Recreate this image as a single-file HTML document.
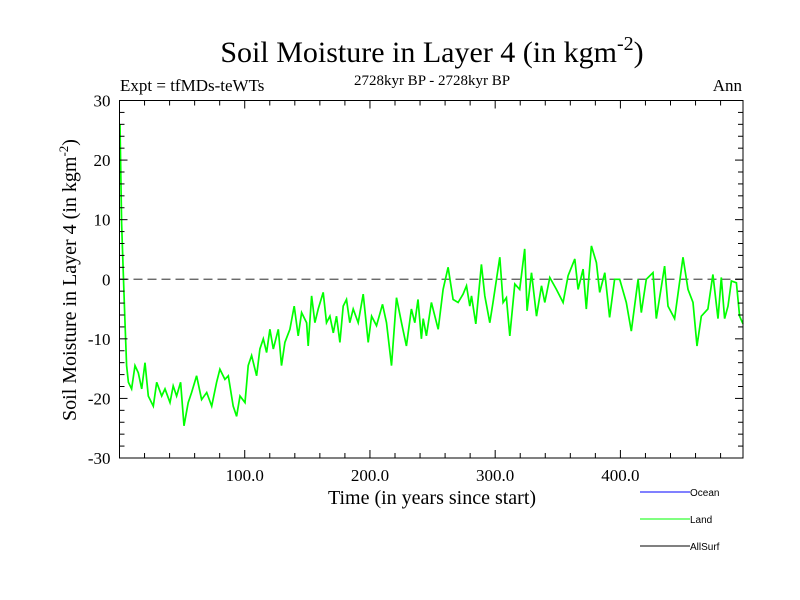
<!DOCTYPE html>
<html><head><meta charset="utf-8"><style>body{margin:0;background:#fff}svg{display:block}</style></head>
<body>
<svg id="chart" width="800" height="600" xmlns="http://www.w3.org/2000/svg">
<rect width="800" height="600" fill="#fff"/>
<text x="432" y="62" text-anchor="middle" font-family="Liberation Serif, serif" font-size="30">Soil Moisture in Layer 4 (in kgm<tspan dy="-12" font-size="20">-2</tspan><tspan dy="12">)</tspan></text>
<text x="120" y="91" font-family="Liberation Serif, serif" font-size="17">Expt = tfMDs-teWTs</text>
<text x="432" y="85" text-anchor="middle" font-family="Liberation Serif, serif" font-size="15">2728kyr BP - 2728kyr BP</text>
<text x="742" y="91" text-anchor="end" font-family="Liberation Serif, serif" font-size="17">Ann</text>
<g id="axes"></g>
<text x="432" y="504" text-anchor="middle" font-family="Liberation Serif, serif" font-size="20">Time (in years since start)</text>
<text transform="translate(76,280) rotate(-90)" text-anchor="middle" font-family="Liberation Serif, serif" font-size="20">Soil Moisture in Layer 4 (in kgm<tspan dy="-8" font-size="13">-2</tspan><tspan dy="8">)</tspan></text>
<g font-family="Liberation Sans, sans-serif" font-size="10">
<line x1="640" y1="492" x2="690" y2="492" stroke="#0000ff"/><text x="690" y="496">Ocean</text>
<line x1="640" y1="519" x2="690" y2="519" stroke="#00ff00"/><text x="690" y="523">Land</text>
<line x1="640" y1="546" x2="690" y2="546" stroke="#000"/><text x="690" y="550">AllSurf</text>
</g>
</svg>
<script>
const years=[0.4,1.7,3.1,4.4,5.7,7.1,9.7,12.4,15.0,17.7,20.4,23.0,27.0,29.7,33.7,36.3,40.3,42.9,45.6,48.8,51.5,54.9,57.6,61.6,65.6,69.6,73.6,77.5,80.2,84.2,86.9,90.8,93.5,96.2,100.2,102.8,105.5,109.5,112.1,114.8,117.5,120.1,122.8,126.8,129.4,132.1,136.1,139.5,142.7,145.4,149.4,150.7,153.4,156.0,158.7,162.7,165.3,168.0,170.7,173.3,176.0,178.6,181.3,183.9,186.6,190.6,194.6,198.6,201.3,205.2,210.0,213.2,217.2,221.2,225.2,229.1,233.1,235.8,238.4,241.1,242.5,245.1,249.1,254.5,258.4,262.4,266.4,270.4,274.4,277.1,279.7,281.1,284.5,289.0,291.7,295.7,298.3,303.7,306.3,309.0,311.7,315.7,319.6,323.6,325.5,329.0,333.0,337.0,339.6,343.6,348.9,354.2,358.2,363.6,366.2,370.2,372.8,376.8,380.8,383.5,387.5,391.4,395.4,399.4,404.7,408.7,414.1,416.7,420.7,426.0,428.7,435.3,438.0,443.3,450.0,454.0,458.0,461.2,464.6,469.9,473.9,477.9,480.6,483.2,485.9,488.6,492.6,495.2,497.9];
const land=[26,9.4,0.5,-7.3,-14.5,-17.3,-18.4,-14.5,-15.7,-18.4,-14,-19.6,-21.3,-17.3,-19.6,-18.4,-20.7,-17.9,-19.6,-17.3,-24.6,-20.7,-19,-16.2,-20.2,-19,-21.3,-17.3,-15.1,-16.8,-16.2,-21.3,-23,-19.6,-20.7,-14.5,-12.8,-16.2,-11.7,-10,-12.3,-8.4,-11.7,-8.4,-14.5,-10.6,-8.4,-4.5,-9.5,-5.6,-7.3,-11.2,-2.8,-7.3,-5,-2.2,-7.3,-6.2,-9,-6.2,-10.6,-4.5,-3.4,-7.3,-5,-7.3,-2.5,-10.6,-6.2,-7.8,-4.2,-7.3,-14.5,-3.1,-7.3,-11.2,-5,-7.3,-3.4,-10,-6.6,-9.5,-3.9,-8.4,-1.7,2.0,-3.4,-3.9,-2.5,-1.1,-4.5,-2.8,-7.5,2.5,-2.8,-7.3,-3.9,3.7,-3.9,-3.1,-9.5,-0.8,-1.7,5.1,-5.3,1.1,-6.2,-1.1,-3.9,0.3,-1.7,-3.9,0.6,3.4,-1.7,1.7,-5,5.6,2.8,-2.2,1.1,-6.4,0,0,-3.9,-8.7,0,-5.6,0,1.1,-6.6,2.2,-4.5,-6.6,3.7,-1.7,-3.9,-11.2,-6.2,-5,0.8,-6.6,0.3,-6.6,-4.5,-0.3,-0.6,-6.2,-7.5];
const yTicks=[-30,-20,-10,0,10,20,30];
const xTicks=[100,200,300,400];
const xTickLabels=["100.0","200.0","300.0","400.0"];
const X0=119.5,X1=743,Y0=458,Y1=100.5,xMax=497.9;
const xs=t=>X0+(X1-X0)*t/xMax;
const ys=v=>Y0-(Y0-Y1)*(v+30)/60;
const NS='http://www.w3.org/2000/svg';
const g=document.getElementById('axes');
function mk(tag,a){const e=document.createElementNS(NS,tag);for(const k in a)e.setAttribute(k,a[k]);g.appendChild(e);return e;}
const zl=mk('line',{x1:X0,x2:X1,y1:ys(0),y2:ys(0),stroke:'#555','stroke-width':1.3,'stroke-dasharray':'9,5'});


const pl=mk('polyline',{points:years.map((t,i)=>xs(t).toFixed(1)+','+ys(land[i]).toFixed(1)).join(' '),fill:'none',stroke:'#00ff00','stroke-width':1.7});


const fr=mk('rect',{x:X0,y:Y1,width:X1-X0,height:Y0-Y1,fill:'none',stroke:'#000','stroke-width':1});


for(let v=-30;v<=30;v+=2){const maj=v%10===0;const L=maj?8:5;
 mk('line',{x1:X0,x2:X0+L,y1:ys(v),y2:ys(v),stroke:'#000'});
 mk('line',{x1:X1,x2:X1-L,y1:ys(v),y2:ys(v),stroke:'#000'});}
yTicks.forEach(v=>{const t=mk('text',{x:X0-9,y:ys(v)+6,'text-anchor':'end','font-family':'Liberation Serif, serif','font-size':17});t.textContent=v;
 
 });
for(let x=20;x<xMax;x+=20){const maj=x%100===0;const L=maj?8:5;
 mk('line',{x1:xs(x),x2:xs(x),y1:Y0,y2:Y0-L,stroke:'#000'});
 mk('line',{x1:xs(x),x2:xs(x),y1:Y1,y2:Y1+L,stroke:'#000'});}
xTicks.forEach((x,i)=>{const t=mk('text',{x:xs(x),y:Y0+23,'text-anchor':'middle','font-family':'Liberation Serif, serif','font-size':17});t.textContent=xTickLabels[i];
 
 });
</script>
</body></html>
